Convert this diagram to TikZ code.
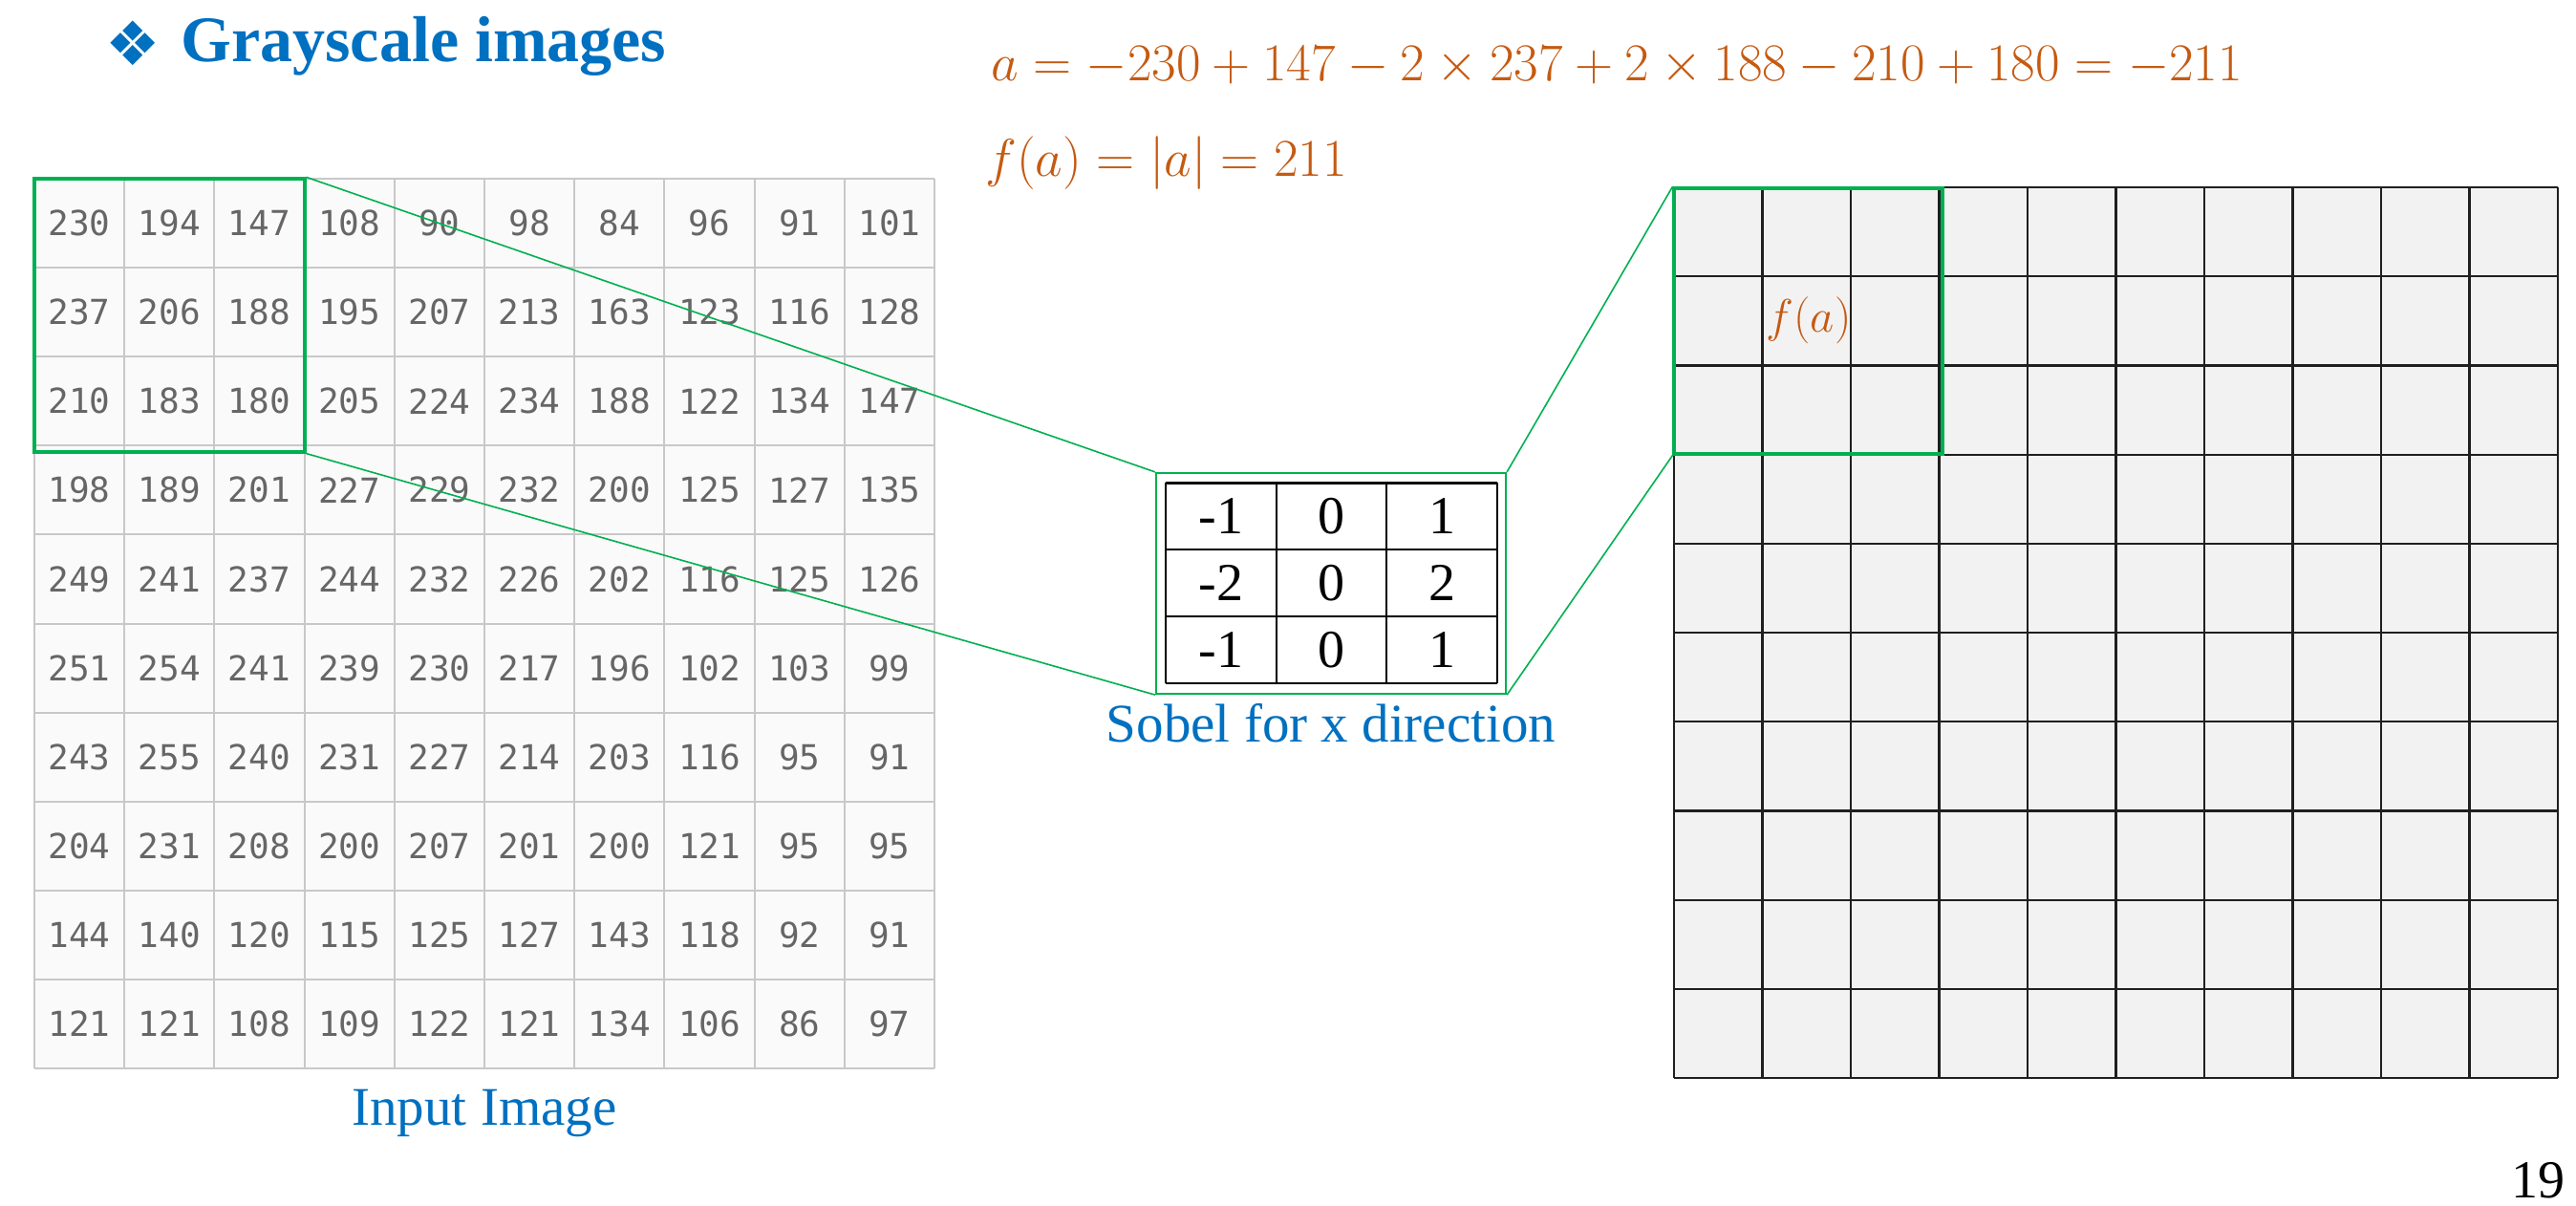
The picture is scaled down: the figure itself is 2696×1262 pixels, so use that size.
\RequirePackage{fix-cm}
\documentclass[tikz,border=0pt]{standalone}
\usepackage{fontspec}
\setmainfont{Liberation Serif}
\newfontfamily\cellmono{DejaVu Sans Mono}
\newfontfamily\symfam{DejaVu Sans}
\usetikzlibrary{fit}
\definecolor{titleblue}{HTML}{0070C0}
\definecolor{eqorange}{HTML}{C55A11}
\definecolor{boxgreen}{HTML}{00B050}
\definecolor{cellgray}{HTML}{F2F2F2}
\definecolor{ingray}{HTML}{FAFAFA}
\definecolor{ingrid}{HTML}{C8C8C8}
\definecolor{numgray}{HTML}{666666}
\tikzset{
  innum/.style={inner sep=0pt, text=numgray, font=\cellmono\fontsize{18}{22}\selectfont},
  sobnum/.style={inner sep=0pt, text=black, font=\fontsize{28}{32}\selectfont},
  greenbox/.style={draw=boxgreen, line width=1.6pt, inner sep=0pt},
  greenthin/.style={draw=boxgreen, line width=1.1pt, inner sep=0pt},
  conn/.style={draw=boxgreen, line width=0.8pt},
  bluelabel/.style={text=titleblue, inner sep=0pt, font=\fontsize{28.5}{32}\selectfont},
  eqtext/.style={text=eqorange, inner sep=0pt, font=\fontsize{27.8}{32}\selectfont},
}
\begin{document}
\begin{tikzpicture}[x=0.5pt,y=-0.5pt]
\fill[white] (0,0) rectangle (2696,1262);
\useasboundingbox (0,0) rectangle (2696,1262);

% title
\node[text=titleblue, inner sep=0pt, font=\symfam\fontsize{32}{36}\selectfont] (bullet) at (139,45) {❖};
\node[anchor=base west, text=titleblue, inner sep=0pt, font=\bfseries\fontsize{34}{38}\selectfont] (title) at (189,65) {Grayscale images};

% equations
\node[anchor=base west, eqtext] (eqa) at (1037,85) {$a=-230+147-2\times 237+2\times 188-210+180=-211$};
\node[anchor=base west, eqtext] (eqf) at (1031,185) {$f(a)=|a|=211$};

% input grid
\fill[ingray] (36,187) rectangle (978,1118);
\foreach \i in {0,...,10} {
  \draw[ingrid, line width=1pt] ({36+94.2*\i},187) -- ({36+94.2*\i},1118);
  \draw[ingrid, line width=1pt] (36,{187+93.1*\i}) -- (978,{187+93.1*\i});
}
\foreach \row [count=\r] in {
  {230,194,147,108,90,98,84,96,91,101},
  {237,206,188,195,207,213,163,123,116,128},
  {210,183,180,205,224,234,188,122,134,147},
  {198,189,201,227,229,232,200,125,127,135},
  {249,241,237,244,232,226,202,116,125,126},
  {251,254,241,239,230,217,196,102,103,99},
  {243,255,240,231,227,214,203,116,95,91},
  {204,231,208,200,207,201,200,121,95,95},
  {144,140,120,115,125,127,143,118,92,91},
  {121,121,108,109,122,121,134,106,86,97}} {
  \foreach \v [count=\c] in \row {
    \node[innum] (in-\r-\c) at ({36+94.2*(\c-0.5)},{187+93.1*(\r-0.5)}) {\v};
  }
}
\node[anchor=base, bluelabel] (inlabel) at (507,1177) {Input Image};

% output grid
\fill[cellgray] (1752,196) rectangle (2677,1128);
\foreach \i in {0,...,10} {
  \draw[black!88, line width=1.1pt] ({1752+92.5*\i},196) -- ({1752+92.5*\i},1128);
  \draw[black!88, line width=1.1pt] (1752,{196+93.2*\i}) -- (2677,{196+93.2*\i});
}
\node[eqtext, font=\fontsize{24.5}{28}\selectfont] (fa) at (1893,335) {$f(a)$};

% sobel kernel
\fill[white] (1220,505) rectangle (1567,715);
\foreach \i in {0,...,3} {
  \draw[black, line width=0.9pt] ({1220+115.67*\i},505) -- ({1220+115.67*\i},715);
}
\foreach \i in {1,2} {
  \draw[black, line width=1.2pt] (1220,{505+70*\i}) -- (1567,{505+70*\i});
}
\draw[black, line width=1.5pt] (1220,505) -- (1567,505);
\draw[black, line width=1.0pt] (1220,715) -- (1567,715);
\foreach \row [count=\r] in {{-1,0,1},{-2,0,2},{-1,0,1}} {
  \foreach \v [count=\c] in \row {
    \node[sobnum] (sob-\r-\c) at ({1220+115.67*(\c-0.5)},{505+70*(\r-0.5)}) {\v};
  }
}
\node[anchor=base, bluelabel] (soblabel) at (1393,776) {Sobel for x direction};

% green windows
\node[greenbox, fit={(36,187) (319,473)}] (inwin) {};
\node[greenthin, fit={(1210,495) (1576,726)}] (sobwin) {};
\node[greenbox, fit={(1752,197) (2033,475)}] (outwin) {};

% connectors
\draw[conn] (inwin.north east) -- (sobwin.north west);
\draw[conn] (inwin.south east) -- (sobwin.south west);
\draw[conn] (sobwin.north east) -- (outwin.north west);
\draw[conn] (sobwin.south east) -- (outwin.south west);

% page number
\node[anchor=base east, inner sep=0pt, font=\fontsize{28}{32}\selectfont] (pagenum) at (2685,1253) {19};
\end{tikzpicture}
\end{document}
